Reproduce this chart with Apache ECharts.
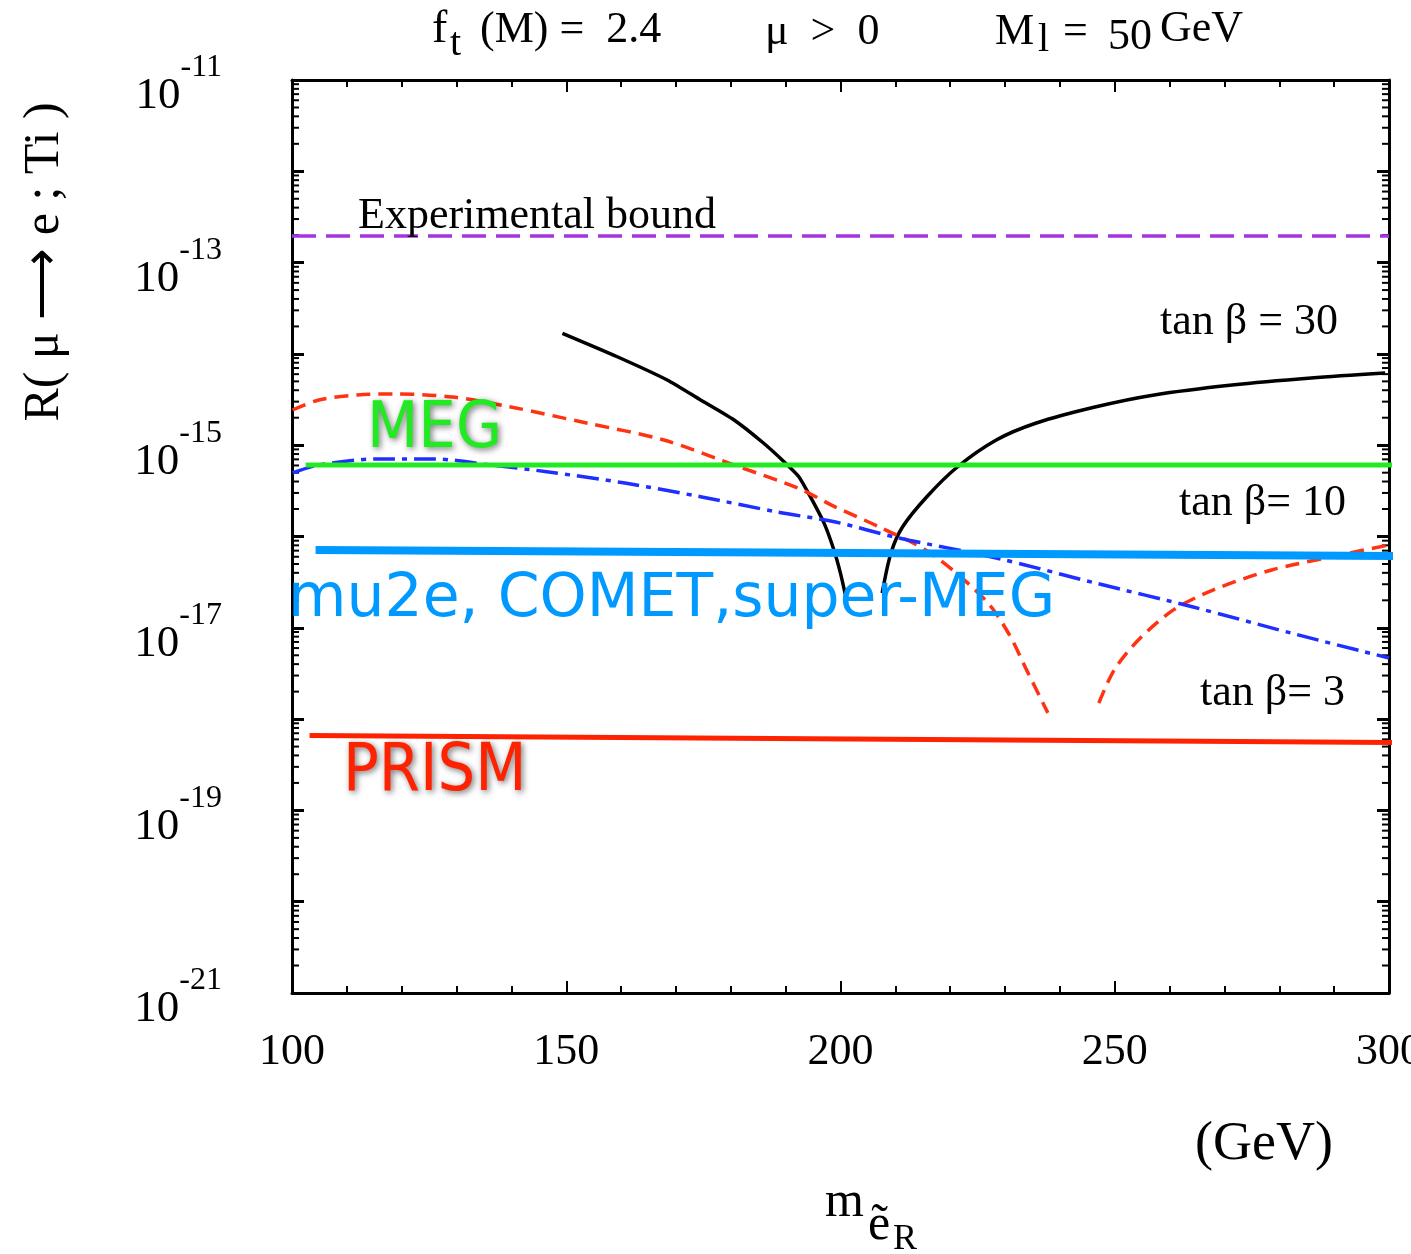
<!DOCTYPE html>
<html>
<head>
<meta charset="utf-8">
<script src="https://cdn.jsdelivr.net/npm/echarts@6/dist/echarts.min.js"></script>
<style>
html, body { margin: 0; padding: 0; background: #fff; }
#chart { width: 1411px; height: 1254px; }
</style>
</head>
<body>
<div id="chart"></div>
<script>
// x: right-handed selectron mass (GeV), y: R(mu -> e; Ti)
const xTicks = [100, 150, 200, 250, 300];
const yLabelExps = [-21, -19, -17, -15, -13, -11];

// tan beta = 30 (black, two branches around the cancellation)
const tb30LeftX = [149.3, 159.3, 168.4, 174.5, 180.6, 186.0, 189.7, 192.4, 194.5, 197.0, 198.8, 200.0, 200.9];
const tb30LeftY = [1.68e-14, 9.31e-15, 5.18e-15, 3.13e-15, 1.89e-15, 1.05e-15, 6.59e-16, 4.52e-16, 2.73e-16, 1.40e-16, 7.11e-17, 3.95e-17, 2.29e-17];
const tb30RightX = [207.6, 209.2, 211.3, 215.7, 221.3, 228.4, 235.7, 246.4, 257.2, 271.4, 285.8, 299.3];
const tb30RightY = [2.40e-17, 6.59e-17, 1.27e-16, 2.71e-16, 5.77e-16, 1.14e-15, 1.75e-15, 2.62e-15, 3.55e-15, 4.56e-15, 5.45e-15, 6.18e-15];

// tan beta = 10 (red dashed)
const tb10LeftX = [100.1, 104.9, 111.9, 118.9, 129.3, 139.9, 153.7, 167.8, 181.6, 192.2, 199.1, 207.1, 216.4, 226.4, 230.6, 234.2, 237.8];
const tb10LeftY = [2.43e-15, 3.13e-15, 3.55e-15, 3.64e-15, 3.37e-15, 2.62e-15, 1.75e-15, 1.14e-15, 5.77e-16, 3.40e-16, 2.10e-16, 1.27e-16, 6.59e-17, 2.02e-17, 8.77e-18, 3.20e-18, 1.17e-18];
const tb10RightX = [247.1, 249.9, 254.3, 260.7, 267.9, 278.6, 289.3, 300];
const tb10RightY = [1.50e-18, 3.45e-18, 7.35e-18, 1.57e-17, 2.59e-17, 4.30e-17, 5.96e-17, 8.07e-17];

// tan beta = 3 (blue dash-dot)
const tb3X = [100.1, 104.9, 115.4, 125.9, 136.3, 146.8, 160.7, 174.7, 188.6, 199.1, 210.6, 228.4, 246.4, 264.3, 282.1, 300];
const tb3Y = [4.97e-16, 6.07e-16, 7.06e-16, 7.06e-16, 6.07e-16, 5.09e-16, 3.85e-16, 2.71e-16, 1.85e-16, 1.44e-16, 9.64e-17, 5.82e-17, 3.10e-17, 1.69e-17, 8.77e-18, 4.67e-18];

// experimental reaches
const boundX = [100, 300];
const boundY = [1.95e-13, 1.95e-13];
const megX = [102.5, 301.5];
const megY = [6.07e-16, 6.07e-16];
const superMegX = [104.3, 303.9];
const superMegY = [7.11e-17, 6.11e-17];
const prismX = [103.2, 302.2];
const prismY = [6.61e-19, 5.52e-19];

// plot on log10 of the rate
function pairs(xs, ys) {
    return xs.map((x, i) => [x, Math.log10(ys[i])]);
}

// log minor ticks (2..9 x 10^n)
let minorTickData = [];
for (let n = yLabelExps[0]; n < yLabelExps[yLabelExps.length - 1]; n++) {
    for (let k = 2; k <= 9; k++) {
        minorTickData.push([100, n + Math.log10(k)]);
    }
}

const serif = '"Liberation Serif", "Times New Roman", serif';
const sans = '"DejaVu Sans", "Noto Sans", sans-serif';

let chart = echarts.init(document.getElementById('chart'), null, { renderer: 'canvas' });

function txt(x, y, text, size, opts) {
    opts = opts || {};
    return {
        type: 'text',
        x: x, y: y,
        rotation: opts.rotation || 0,
        scaleX: opts.scaleX || 1,
        z: 100,
        style: {
            text: text,
            x: 0, y: 0,
            font: (opts.weight || 'normal') + ' ' + size + 'px ' + (opts.family || serif),
            fill: opts.color || '#000',
            align: opts.align || 'left',
            verticalAlign: 'middle',
            textAlign: opts.align || 'left',
            textVerticalAlign: 'middle',
            textShadowColor: opts.shadow ? 'rgba(0,0,0,0.55)' : 'transparent',
            textShadowBlur: opts.shadow ? 6 : 0,
            textShadowOffsetX: opts.shadow ? 2 : 0,
            textShadowOffsetY: opts.shadow ? 2 : 0
        }
    };
}

const axisLine = { show: true, lineStyle: { color: '#000', width: 3 } };

let option = {
    animation: false,
    backgroundColor: '#fff',
    grid: { left: 292, right: 22, top: 80, bottom: 261, containLabel: false, outerBoundsMode: 'none' },
    xAxis: [
        {
            type: 'value', min: 100, max: 300, interval: 50,
            axisLine: axisLine,
            axisTick: { show: true, inside: true, length: 12, lineStyle: { color: '#000', width: 2 } },
            minorTick: { show: true, splitNumber: 5, length: 7, lineStyle: { color: '#000', width: 2 } },
            splitLine: { show: false },
            axisLabel: {
                margin: 37,
                fontFamily: serif, fontSize: 44, color: '#000',
                hideOverlap: false,
                showMaxLabel: true,
                formatter: v => xTicks.includes(v) ? String(v) : ''
            }
        },
        {
            type: 'value', min: 100, max: 300, interval: 50, position: 'top',
            axisLine: axisLine,
            axisTick: { show: true, inside: true, length: 12, lineStyle: { color: '#000', width: 2 } },
            minorTick: { show: true, splitNumber: 5, length: 7, lineStyle: { color: '#000', width: 2 } },
            splitLine: { show: false },
            axisLabel: { show: false }
        }
    ],
    yAxis: [
        {
            type: 'value', min: -21, max: -11, interval: 1,
            axisLine: axisLine,
            axisTick: { show: true, inside: true, length: 12, lineStyle: { color: '#000', width: 3 } },
            splitLine: { show: false },
            axisLabel: {
                margin: 70,
                color: '#000',
                formatter: v => yLabelExps.includes(v) ? '{b|10}{s|' + v + '}' : '',
                rich: {
                    b: { fontFamily: serif, fontSize: 45, verticalAlign: 'bottom', color: '#000' },
                    s: { fontFamily: serif, fontSize: 32, lineHeight: 78, verticalAlign: 'top', padding: [11, 0, 0, 0], color: '#000' }
                }
            }
        },
        {
            type: 'value', min: -21, max: -11, interval: 1, position: 'right',
            axisLine: axisLine,
            axisTick: { show: true, inside: true, length: 12, lineStyle: { color: '#000', width: 3 } },
            splitLine: { show: false },
            axisLabel: { show: false }
        }
    ],
    series: [
        {
            type: 'custom',
            silent: true,
            z: 3,
            data: minorTickData,
            encode: { x: 0, y: 1 },
            renderItem: function (params, api) {
                const pl = api.coord([100, api.value(1)]);
                const pr = api.coord([300, api.value(1)]);
                const st = { stroke: '#000', lineWidth: 2 };
                return {
                    type: 'group',
                    children: [
                        { type: 'line', shape: { x1: pl[0], y1: pl[1], x2: pl[0] + 7, y2: pl[1] }, style: st },
                        { type: 'line', shape: { x1: pr[0], y1: pr[1], x2: pr[0] - 7, y2: pr[1] }, style: st }
                    ]
                };
            }
        },
        {
            name: 'tanb30 left', type: 'line', showSymbol: false, smooth: 0.2,
            data: pairs(tb30LeftX, tb30LeftY),
            lineStyle: { color: '#000', width: 3.5 }
        },
        {
            name: 'tanb30 right', type: 'line', showSymbol: false, smooth: 0.3,
            data: pairs(tb30RightX, tb30RightY),
            lineStyle: { color: '#000', width: 3.5 }
        },
        {
            name: 'tanb10 left', type: 'line', showSymbol: false, smooth: 0.3,
            data: pairs(tb10LeftX, tb10LeftY),
            lineStyle: { color: '#ff3311', width: 3.5, type: [14, 8] }
        },
        {
            name: 'tanb10 right', type: 'line', showSymbol: false, smooth: 0.3,
            data: pairs(tb10RightX, tb10RightY),
            lineStyle: { color: '#ff3311', width: 3.5, type: [14, 8] }
        },
        {
            name: 'tanb3', type: 'line', showSymbol: false, smooth: 0.3,
            data: pairs(tb3X, tb3Y),
            lineStyle: { color: '#1f2fff', width: 3.5, type: [22, 7, 5, 7] }
        },
        {
            name: 'bound', type: 'line', showSymbol: false,
            data: pairs(boundX, boundY),
            lineStyle: { color: '#a335e0', width: 3.5, type: [24, 10] }
        },
        {
            name: 'MEG', type: 'line', showSymbol: false, clip: false, z: 5,
            data: pairs(megX, megY),
            lineStyle: { color: '#22ea22', width: 5 }
        },
        {
            name: 'super-MEG', type: 'line', showSymbol: false, clip: false, z: 5,
            data: pairs(superMegX, superMegY),
            lineStyle: { color: '#0099ff', width: 8 }
        },
        {
            name: 'PRISM', type: 'line', showSymbol: false, clip: false, z: 5,
            data: pairs(prismX, prismY),
            lineStyle: { color: '#ff2200', width: 5 }
        }
    ],
    graphic: [
        // header
        txt(432, 30, 'f', 46),
        txt(450, 44, 't', 40),
        txt(480, 30, '(M) =  2.4', 44),
        txt(765, 32, 'μ  >  0', 44),
        txt(995, 32, 'M', 44),
        txt(1038, 40, 'l', 40),
        txt(1063, 32, '=', 44),
        txt(1108, 37, '50', 44),
        txt(1160, 29, 'GeV', 44),
        // axis titles
        txt(45, 262, 'R( μ ⟶ e ; Ti )', 50, { rotation: Math.PI / 2, align: 'center' }),
        txt(825, 1203, 'm', 50),
        txt(868, 1226, 'ẽ', 50),
        txt(893, 1240, 'R', 36),
        txt(1195, 1145, '(GeV)', 54),
        // curve labels
        txt(358, 216, 'Experimental bound', 44),
        txt(1338, 322, 'tan β = 30', 44, { align: 'right' }),
        txt(1346, 503, 'tan β= 10', 44, { align: 'right' }),
        txt(1345, 693, 'tan β= 3', 44, { align: 'right' }),
        // experiment labels
        txt(367, 430, 'MEG', 64, { family: sans, color: '#22ea22', shadow: true, scaleX: 0.93 }),
        txt(288, 600, 'mu2e, COMET,super-MEG', 60, { family: sans, color: '#0099ff' }),
        txt(343, 773, 'PRISM', 66, { family: sans, color: '#ff2200', shadow: true, scaleX: 0.9 })
    ]
};

chart.setOption(option);
window.addEventListener('resize', function () {
    chart.resize();
});
</script>
</body>
</html>
